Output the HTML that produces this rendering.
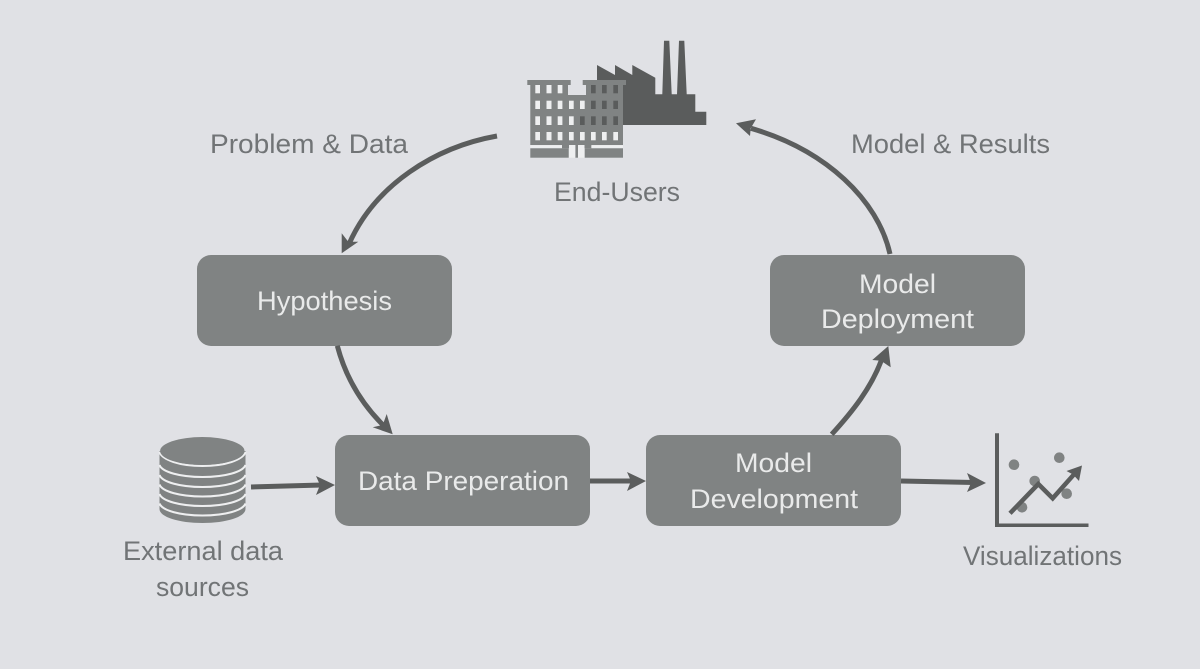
<!DOCTYPE html>
<html><head><meta charset="utf-8"><style>
html,body{margin:0;padding:0;background:#e0e1e5;width:1200px;height:669px;overflow:hidden}
svg{display:block}
text{font-family:"Liberation Sans",sans-serif;font-size:27px}
.d{fill:#717476}
.w{fill:#e9eaea}
.c{fill:none;stroke:#5b5d5d;stroke-width:5}
.h{fill:#5b5d5d}
</style></head><body>
<svg width="1200" height="669" viewBox="0 0 1200 669" xmlns="http://www.w3.org/2000/svg">
<rect width="1200" height="669" fill="#e0e1e5"/>
<!-- boxes -->
<g fill="#808383">
<rect x="197" y="255" width="255" height="91" rx="14"/>
<rect x="770" y="255" width="255" height="91" rx="14"/>
<rect x="335" y="435" width="255" height="91" rx="14"/>
<rect x="646" y="435" width="255" height="91" rx="14"/>
</g>
<!-- connectors -->
<path class="c" d="M497 136C435 147 375 185 349 244"/>
<path class="h" d="M341.700 253.300L341.700 233.300L348.300 241.700L358.300 241.700Z"/>
<path class="c" d="M337.300 345.700C345 375 360 402 383 425"/>
<path class="h" d="M392.700 434.300L372.700 427.300L382.700 425L386.700 414Z"/>
<path class="c" d="M251 487L322 485"/>
<path class="h" d="M335 485L316 476L320 485L316 495Z"/>
<path class="c" d="M590 481L634 481"/>
<path class="h" d="M646 481L627 472L631 481L627 491Z"/>
<path class="c" d="M901 481L974 482.500"/>
<path class="h" d="M986 483L967 473L971 483L967 492Z"/>
<path class="c" d="M831.700 434.300C853 411 871 388 881.500 360"/>
<path class="h" d="M888.300 346L890.700 367.300L881 360.700L872.300 360Z"/>
<path class="c" d="M890 254C878 200 826 150 751 128.300"/>
<path class="h" d="M736 123.300L756 119.300L750.700 128.300L750 136Z"/>
<!-- factory -->
<polygon fill="#5a5c5c" points="597,65 615,75 615,65 632.300,75 632.300,65 655.300,77.700 655.300,94.300 662.300,94.300 664,40.700 669.300,40.700 671.700,94.300 677,94.300 679,40.700 684.300,40.700 686.700,94.300 695.300,94.300 695.300,111.700 706.300,111.700 706.300,125 620,125 597,125"/>
<!-- building -->
<g fill="#808383">
<rect x="527.300" y="80" width="43.400" height="5"/>
<rect x="582.700" y="80" width="43.300" height="5"/>
<path d="M530.300 85H568V95H586V85H623V145H530.300Z"/>
<rect x="530.300" y="148.300" width="38.400" height="9.400"/>
<rect x="584.700" y="148.300" width="38.300" height="9.400"/>
<rect x="562" y="145" width="7" height="3.300"/>
<rect x="584.500" y="145" width="7" height="3.300"/>
<rect x="575.300" y="145" width="2.700" height="12.700"/>
</g>
<g fill="#eeeff0">
<rect x="530.300" y="145.300" width="31.700" height="2.600"/>
<rect x="591.300" y="145.300" width="31.700" height="2.600"/>
<rect x="569" y="145" width="6.300" height="12.700"/>
<rect x="578" y="145" width="6.500" height="12.700"/>
<!-- windows -->
<rect x="535.300" y="85" width="4.700" height="8.300"/><rect x="546.500" y="85" width="5" height="8.300"/><rect x="557.700" y="85" width="4.700" height="8.300"/>
<rect x="535.300" y="100.700" width="4.700" height="8.300"/><rect x="546.500" y="100.700" width="5" height="8.300"/><rect x="557.700" y="100.700" width="4.700" height="8.300"/><rect x="569" y="100.700" width="4.700" height="8.300"/><rect x="580" y="100.700" width="4.700" height="8.300"/>
<rect x="535.300" y="116.300" width="4.700" height="8.700"/><rect x="546.500" y="116.300" width="5" height="8.700"/><rect x="557.700" y="116.300" width="4.700" height="8.700"/><rect x="569" y="116.300" width="4.700" height="8.700"/>
<rect x="535.300" y="132" width="4.700" height="8.300"/><rect x="546.500" y="132" width="5" height="8.300"/><rect x="557.700" y="132" width="4.700" height="8.300"/><rect x="569" y="132" width="4.700" height="8.300"/><rect x="580" y="132" width="4.700" height="8.300"/><rect x="591" y="132" width="4.700" height="8.300"/><rect x="602" y="132" width="4.700" height="8.300"/><rect x="613.300" y="132" width="4.700" height="8.300"/>
</g>
<g fill="#5a5c5c">
<rect x="591" y="85" width="4.700" height="8.300"/><rect x="602" y="85" width="4.700" height="8.300"/><rect x="613.300" y="85" width="4.700" height="8.300"/>
<rect x="591" y="100.700" width="4.700" height="8.300"/><rect x="602" y="100.700" width="4.700" height="8.300"/><rect x="613.300" y="100.700" width="4.700" height="8.300"/>
<rect x="580" y="116.300" width="4.700" height="8.700"/><rect x="591" y="116.300" width="4.700" height="8.700"/><rect x="602" y="116.300" width="4.700" height="8.700"/><rect x="613.300" y="116.300" width="4.700" height="8.700"/>
</g>
<!-- database -->
<path fill="#808383" d="M159.500 451H245.500V509C245.500 517 226 523 202.500 523C179 523 159.500 517 159.500 509Z"/>
<g fill="none" stroke="#eeeff0" stroke-width="2">
<path d="M159.500 452C162 460 180 466 202.500 466C225 466 243 460 245.500 452"/>
<path d="M159.500 465C162 472 180 477 202.500 477C225 477 243 472 245.500 465"/>
<path d="M159.500 475C162 482 180 487 202.500 487C225 487 243 482 245.500 475"/>
<path d="M159.500 484.500C162 491.500 180 496.500 202.500 496.500C225 496.500 243 491.500 245.500 484.500"/>
<path d="M159.500 494C162 501 180 506 202.500 506C225 506 243 501 245.500 494"/>
<path d="M159.500 503.500C162 510.500 180 515.500 202.500 515.500C225 515.500 243 510.500 245.500 503.500"/>
</g>
<ellipse cx="202.300" cy="451" rx="42.200" ry="14" fill="#808383"/>
<!-- chart -->
<g fill="#808383">
<circle cx="1014" cy="464.700" r="5.300"/>
<circle cx="1059.300" cy="457.700" r="5.300"/>
<circle cx="1034.700" cy="481" r="5.300"/>
<circle cx="1066.700" cy="493.700" r="5.300"/>
<circle cx="1022" cy="507.300" r="5.300"/>
</g>
<path fill="#5b5d5d" d="M995 433.300H999V523.500H1088.500V527H995Z"/>
<path fill="none" stroke="#5b5d5d" stroke-width="4.500" d="M1010 513.300L1038.300 484L1052.700 498.300L1075 473.300"/>
<path class="h" d="M1082 465.500L1079 481L1073 474.500L1066.500 471Z"/>
<!-- labels -->
<g class="d">
<text x="210" y="153" textLength="198" lengthAdjust="spacingAndGlyphs">Problem &amp; Data</text>
<text x="851" y="153" textLength="199" lengthAdjust="spacingAndGlyphs">Model &amp; Results</text>
<text x="554" y="201" textLength="126" lengthAdjust="spacingAndGlyphs">End-Users</text>
<text x="123" y="560" textLength="160" lengthAdjust="spacingAndGlyphs">External data</text>
<text x="156" y="596" textLength="93" lengthAdjust="spacingAndGlyphs">sources</text>
<text x="963" y="565" textLength="159" lengthAdjust="spacingAndGlyphs">Visualizations</text>
</g>
<g class="w">
<text x="257" y="310" textLength="135" lengthAdjust="spacingAndGlyphs">Hypothesis</text>
<text x="859" y="293" textLength="77" lengthAdjust="spacingAndGlyphs">Model</text>
<text x="821" y="328" textLength="153" lengthAdjust="spacingAndGlyphs">Deployment</text>
<text x="358" y="490" textLength="211" lengthAdjust="spacingAndGlyphs">Data Preperation</text>
<text x="735" y="472" textLength="77" lengthAdjust="spacingAndGlyphs">Model</text>
<text x="690" y="508" textLength="168" lengthAdjust="spacingAndGlyphs">Development</text>
</g>
</svg>
</body></html>
